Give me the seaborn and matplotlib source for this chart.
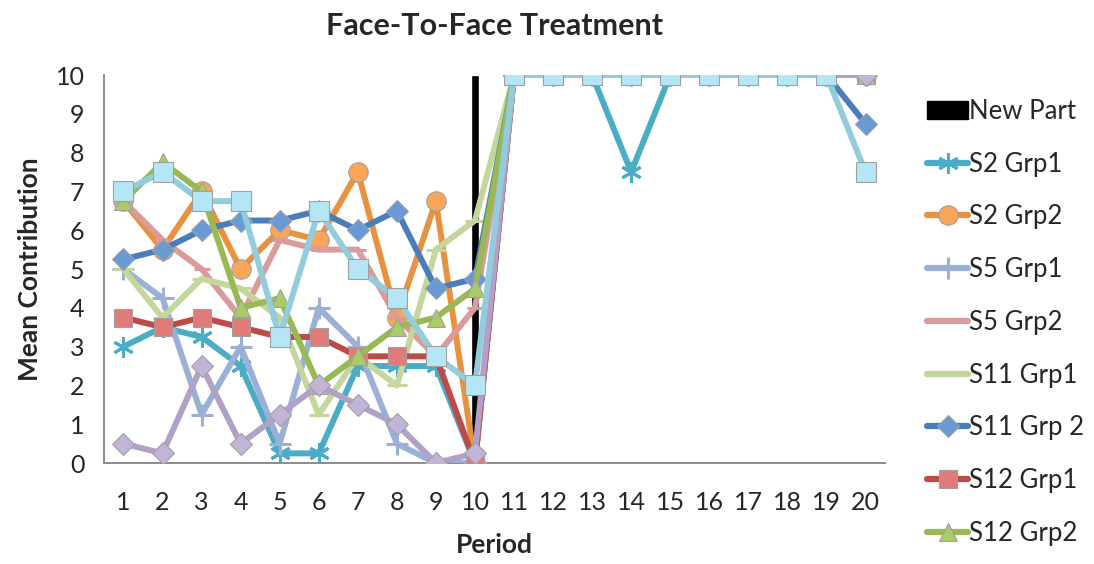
import numpy as np
import pandas as pd
import matplotlib
matplotlib.use("Agg")
import matplotlib.pyplot as plt
import seaborn as sns
from matplotlib.patches import Patch
from matplotlib.lines import Line2D

# donnees
periods = list(range(1, 21))
new_part_period = 10
new_part_value = 10

s2_grp1 = [3.0, 3.5, 3.25, 2.5, 0.25, 0.25, 2.5, 2.5, 2.5, 0.0, 10, 10, 10, 7.5, 10, 10, 10, 10, 10, 10]
s2_grp2 = [6.75, 5.5, 7.0, 5.0, 6.0, 5.75, 7.5, 3.75, 6.75, 0.0, 10, 10, 10, 10, 10, 10, 10, 10, 10, 10]
s5_grp1 = [5.0, 4.25, 1.25, 3.0, 0.5, 4.0, 3.0, 0.5, 0.0, 0.0, 10, 10, 10, 10, 10, 10, 10, 10, 10, 10]
s5_grp2 = [6.75, 5.75, 5.0, 3.75, 5.75, 5.5, 5.5, 3.75, 2.75, 4.0, 10, 10, 10, 10, 10, 10, 10, 10, 10, 10]
s11_grp1 = [5.0, 3.75, 4.75, 4.5, 3.75, 1.25, 2.75, 2.0, 5.5, 6.25, 10, 10, 10, 10, 10, 10, 10, 10, 10, 10]
s11_grp2 = [5.25, 5.5, 6.0, 6.25, 6.25, 6.5, 6.0, 6.5, 4.5, 4.75, 10, 10, 10, 10, 10, 10, 10, 10, 10, 8.75]
s12_grp1 = [3.75, 3.5, 3.75, 3.5, 3.25, 3.25, 2.75, 2.75, 2.75, 0.0, 10, 10, 10, 10, 10, 10, 10, 10, 10, 10]
s12_grp2 = [6.75, 7.75, 7.0, 4.0, 4.25, 2.0, 2.75, 3.5, 3.75, 4.5, 10, 10, 10, 10, 10, 10, 10, 10, 10, 10]
extra_purple = [0.5, 0.25, 2.5, 0.5, 1.25, 2.0, 1.5, 1.0, 0.0, 0.25, 10, 10, 10, 10, 10, 10, 10, 10, 10, 10]
extra_blue = [7.0, 7.5, 6.75, 6.75, 3.25, 6.5, 5.0, 4.25, 2.75, 2.0, 10, 10, 10, 10, 10, 10, 10, 10, 10, 7.5]

# (nom, valeurs, couleur ligne, couleur marqueur, marqueur, taille, legende)
series = [
    ("S2 Grp1", s2_grp1, "#4BACC6", "#4BACC6", (6, 2, 0), 15, True),
    ("S2 Grp2", s2_grp2, "#E8913F", "#F9A65A", "o", 14, True),
    ("S5 Grp1", s5_grp1, "#9AB0D6", "#9AB0D6", "+", 16, True),
    ("S5 Grp2", s5_grp2, "#D99C9A", "#D99C9A", "_", 12, True),
    ("S11 Grp1", s11_grp1, "#C3D69B", "#C3D69B", "_", 14, True),
    ("S11 Grp 2", s11_grp2, "#4A7EBB", "#6A9AD6", "D", 11, True),
    ("S12 Grp1", s12_grp1, "#BE4B48", "#E07B79", "s", 13, True),
    ("S12 Grp2", s12_grp2, "#98B954", "#A9CC66", "^", 13, True),
    ("S13 Grp1", extra_purple, "#B1A0C7", "#C2B3D8", "D", 11, False),
    ("S13 Grp2", extra_blue, "#93CDDD", "#B4E6F5", "s", 14, False),
]

sns.set_style("white")
plt.rcParams["font.family"] = ["Lato", "DejaVu Sans"]

fig = plt.figure(figsize=(10.94, 5.64), dpi=100)
ax = fig.add_axes([0.095, 0.179, 0.714, 0.688])

ax.bar([new_part_period], [new_part_value], width=0.22, color="black", zorder=2)

handles = [Patch(facecolor="black", edgecolor="black")]
labels = ["New Part"]
for i, (name, vals, lc, mc, mk, ms, in_leg) in enumerate(series):
    df = pd.DataFrame({"period": periods, "value": vals})
    unfilled = mk in ("+", "_") or isinstance(mk, tuple)
    kw = dict(marker=mk, markersize=ms, markeredgewidth=2.2 if unfilled else 0.8)
    if unfilled:
        kw["markeredgecolor"] = mc
    else:
        kw["markerfacecolor"] = mc
        kw["markeredgecolor"] = "#A0A0A0"
    sns.lineplot(data=df, x="period", y="value", ax=ax, color=lc, linewidth=4.3,
                 zorder=3 + i, legend=False, **kw)
    if in_leg:
        handles.append(Line2D([0], [0], color=lc, linewidth=4.5, **kw))
        labels.append(name)

ax.set_xlim(0.5, 20.5)
ax.set_ylim(0, 10)
ax.set_xticks(periods)
ax.set_xticklabels([str(p) for p in periods], fontsize=18)
ax.set_yticks(range(0, 11))
ax.set_yticklabels([str(v) for v in range(0, 11)], fontsize=18)
ax.tick_params(axis="x", length=0, pad=20)
ax.tick_params(axis="y", length=0, pad=14)
# petits traits entre categories
ax.set_xticks(np.arange(0.5, 21, 1), minor=True)
ax.tick_params(axis="x", which="minor", length=7, color="#8C8C8C", width=1.2)
ax.set_yticks(range(0, 11), minor=True)
ax.tick_params(axis="y", which="minor", length=7, color="#8C8C8C", width=1.2)

for s in ["top", "right"]:
    ax.spines[s].set_visible(False)
for s in ["left", "bottom"]:
    ax.spines[s].set_color("#8C8C8C")
    ax.spines[s].set_linewidth(1.4)

ax.set_xlabel("Period", fontsize=19, fontweight="bold", labelpad=14)
ax.set_ylabel("Mean Contribution", fontsize=19, fontweight="bold", labelpad=10)
ax.set_title("Face-To-Face Treatment", fontsize=22, fontweight="bold", pad=29)

fig.legend(handles, labels, loc="upper left", bbox_to_anchor=(0.838, 0.843),
           frameon=False, fontsize=18.5, labelspacing=1.08, handlelength=1.6,
           handletextpad=0.05, borderaxespad=0)

fig.savefig("out.png", dpi=100)
